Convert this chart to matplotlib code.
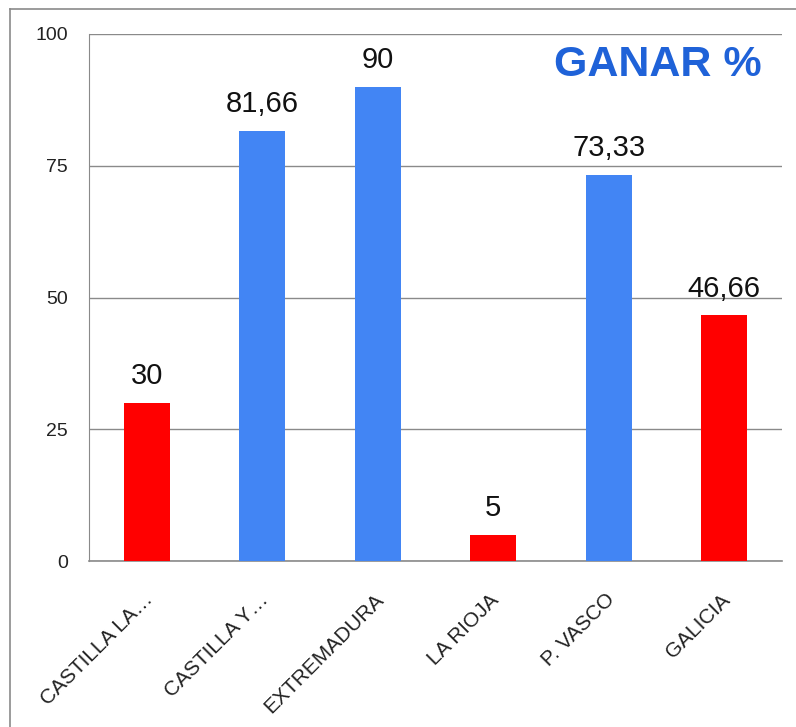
import matplotlib
matplotlib.use("Agg")
import matplotlib.pyplot as plt
from matplotlib.lines import Line2D
import matplotlib.transforms as mtransforms

categories = ["CASTILLA LA…", "CASTILLA Y…", "EXTREMADURA", "LA RIOJA", "P. VASCO", "GALICIA"]
values = [30, 81.66, 90, 5, 73.33, 46.66]
value_labels = ["30", "81,66", "90", "5", "73,33", "46,66"]
bar_colors = ["#ff0000", "#4285f4", "#4285f4", "#ff0000", "#4285f4", "#ff0000"]
yticks = [0, 25, 50, 75, 100]
title = "GANAR %"

plt.rcParams['font.family'] = ['Liberation Sans', 'DejaVu Sans']

fig = plt.figure(figsize=(7.96, 7.27), dpi=100)
W, H = 796, 727
ax = fig.add_axes([89 / W, 1 - 561 / H, (782 - 89) / W, (561 - 34) / H])

x = list(range(len(categories)))
ax.bar(x, values, width=0.4, color=bar_colors, zorder=3)
ax.set_xlim(-0.5, len(categories) - 0.5)
ax.set_ylim(0, 100)

for xi, v, lab in zip(x, values, value_labels):
    ax.annotate(lab, (xi, v), xytext=(0, 9), textcoords="offset points",
                ha="center", va="bottom", fontsize=21, color="#111111", zorder=4)

ax.set_yticks(yticks)
ax.set_yticklabels([str(t) for t in yticks], fontsize=14, color="#222222")
ax.yaxis.grid(True, color="#8a8a8a", linewidth=1.0, zorder=0)
ax.tick_params(axis="y", length=0, pad=15)

ax.set_xticks(x)
ax.set_xticklabels(categories, rotation=45, ha="right", rotation_mode="anchor",
                   fontsize=15, color="#222222")
ax.tick_params(axis="x", length=0, pad=21)
offset = mtransforms.ScaledTranslation(-4 / 100, 0, fig.dpi_scale_trans)
for lbl in ax.get_xticklabels():
    lbl.set_transform(lbl.get_transform() + offset)

for side in ["top", "right"]:
    ax.spines[side].set_visible(False)
ax.spines["left"].set_color("#8a8a8a")
ax.spines["bottom"].set_color("#8a8a8a")
ax.spines["bottom"].set_linewidth(1.2)

ax.text(0.97, 0.98, title, transform=ax.transAxes, ha="right", va="top",
        fontsize=31, fontweight="bold", color="#1f62d8", zorder=5)

# outer frame
fig.add_artist(Line2D([10 / W, 10 / W], [0, 1 - 9 / H], transform=fig.transFigure,
                      color="#8a8a8a", linewidth=1.2))
fig.add_artist(Line2D([10 / W, 1], [1 - 9 / H, 1 - 9 / H], transform=fig.transFigure,
                      color="#8a8a8a", linewidth=1.2))

fig.savefig("out.png", dpi=100)
